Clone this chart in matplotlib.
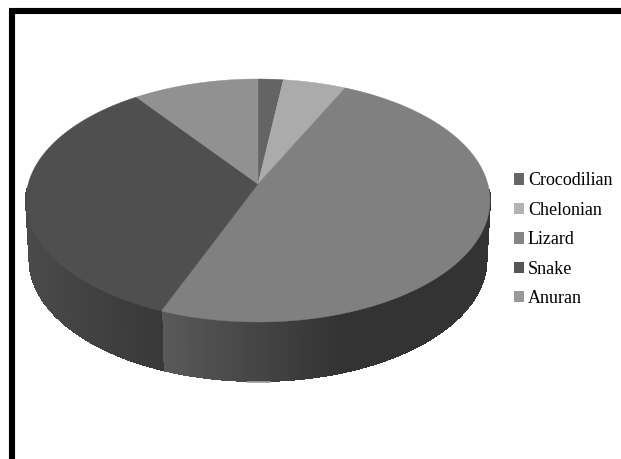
import numpy as np
import matplotlib
matplotlib.use('Agg')
import matplotlib.pyplot as plt
from matplotlib.collections import PolyCollection
from matplotlib.patches import Patch

labels = ['Crocodilian', 'Chelonian', 'Lizard', 'Snake', 'Anuran']
values = [2, 5, 49, 34, 10]
top_colors = ['#646464', '#ababab', '#808080', '#4f4f4f', '#919191']
legend_colors = ['#666666', '#b2b2b2', '#858585', '#555555', '#999999']

# wall shade (grey level) at the left and right of each slice, by pixel x
wall_shades = {2: (0.35, 0.20), 3: (0.29, 0.22)}

# projection of the pie, in pixels
cx, cy = 258, 184
A, C, D = -94.27, 0.1358, 229.8
depth = 59


def project(theta, shrink=1.0, down=0):
    # theta is clockwise from the back of the pie
    u, v = np.sin(theta), np.cos(theta)
    x = cx + shrink * D * u / (1 + C * v)
    y = (A * v + cy) / (1 + C * v) + down
    return x, y


fig = plt.figure(figsize=(6.21, 4.59), dpi=100)
ax = fig.add_axes([0, 0, 1, 1])
ax.set_xlim(0, 621)
ax.set_ylim(459, 0)
ax.axis('off')

# black frame, only top and left
ax.plot([12, 12], [459, 11], color='black', lw=4.4, solid_capstyle='butt')
ax.plot([9, 621], [11, 11], color='black', lw=4.4, solid_capstyle='butt')

edges = np.cumsum([0] + values) / sum(values) * 2 * np.pi

# side wall, narrow strips so the shade can change along it
for i, (left, right) in wall_shades.items():
    th = np.linspace(edges[i], edges[i + 1], 300)
    xt, yt = project(th)
    xb, yb = project(th, shrink=0.985, down=depth)
    keep = np.cos(th) < -0.05
    quads, shades = [], []
    for j in range(len(th) - 1):
        if not keep[j]:
            continue
        quads.append([(xt[j], yt[j]), (xt[j + 1], yt[j + 1]),
                      (xb[j + 1], yb[j + 1]), (xb[j], yb[j])])
        if i == 2:
            t = np.clip((xt[j] - 162) / (340 - 162), 0, 1)
        else:
            t = np.clip((xt[j] - 26) / (162 - 26), 0, 1)
        shades.append(str(left + (right - left) * t))
    ax.add_collection(PolyCollection(quads, facecolors=shades, edgecolors=shades,
                                     linewidths=0.8, antialiased=False))

# top face
for i in range(len(values)):
    th = np.linspace(edges[i], edges[i + 1], 200)
    x, y = project(th)
    ax.fill(np.r_[cx, x], np.r_[cy, y], color=top_colors[i], lw=0.3)

# small light mark under the pie
ax.plot([247, 271], [382, 382], color='#a0a0a0', lw=1.2, solid_capstyle='butt')

handles = [Patch(facecolor=c, edgecolor='none') for c in legend_colors]
ax.legend(handles, labels, loc='upper left', bbox_to_anchor=(507, 165),
          bbox_transform=ax.transData, frameon=False,
          prop={'family': 'Liberation Serif', 'size': 13},
          handlelength=0.54, handleheight=0.6, handletextpad=0.22,
          labelspacing=0.69, borderpad=0.4, borderaxespad=0)

fig.savefig('out.png', dpi=100)
